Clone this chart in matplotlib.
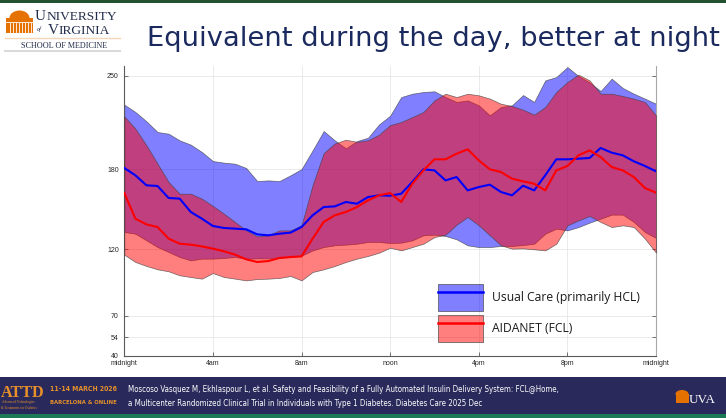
import numpy as np
import matplotlib
matplotlib.use("Agg")
import matplotlib.pyplot as plt
from matplotlib import font_manager as fm
from matplotlib.patches import Patch, Rectangle, Ellipse
from matplotlib.lines import Line2D
from matplotlib.legend_handler import HandlerTuple

# ---------------- data (mg/dL, every 30 minutes from midnight to midnight) -------------
hours = np.arange(0, 24.5, 0.5)

uc_upper = [228.3, 222.8, 215.8, 207.8, 206.5, 201.5, 198.3, 192.8, 186.0, 184.8,
            184.0, 180.8, 171.0, 171.5, 171.0, 175.3, 180.0, 194.0, 208.5, 201.5,
            195.5, 201.0, 203.5, 213.5, 220.0, 234.0, 236.5, 237.8, 238.3, 234.0,
            230.3, 231.5, 227.8, 220.3, 226.5, 227.8, 235.5, 230.3, 246.5, 249.0,
            256.5, 249.8, 245.0, 238.5, 247.8, 240.8, 236.5, 232.8, 229.0]
uc_median = [180.8, 175.3, 167.8, 167.3, 158.3, 157.8, 147.8, 142.8, 137.3, 135.8,
             135.3, 134.8, 131.0, 130.3, 131.5, 132.3, 136.5, 145.3, 151.5, 152.0,
             155.3, 154.0, 159.0, 160.3, 160.0, 161.5, 170.3, 179.8, 179.0, 171.5,
             174.0, 164.0, 166.5, 168.3, 162.8, 160.3, 167.5, 164.0, 175.3, 187.3,
             187.3, 187.8, 188.3, 195.8, 192.3, 190.3, 185.8, 182.3, 178.3]
uc_lower = [132.8, 131.5, 126.5, 121.5, 117.8, 114.0, 111.5, 112.8, 112.8, 113.3,
            114.0, 112.8, 113.0, 113.0, 113.5, 114.0, 115.0, 119.0, 121.5, 122.8,
            123.3, 124.0, 125.3, 125.3, 124.5, 124.8, 126.5, 130.3, 130.8, 129.8,
            127.3, 122.8, 121.5, 121.5, 122.3, 122.3, 123.0, 124.0, 131.5, 135.3,
            134.0, 136.5, 139.8, 142.8, 145.8, 145.8, 140.3, 132.8, 128.3]

fcl_upper = [219.5, 210.3, 197.8, 184.0, 170.3, 161.5, 161.5, 157.8, 152.3, 146.5,
             140.3, 134.0, 129.5, 130.3, 134.0, 134.0, 137.8, 168.0, 192.0, 199.2,
             202.0, 200.4, 201.6, 205.8, 213.0, 215.3, 219.0, 222.8, 231.5, 236.5,
             234.0, 236.5, 235.3, 232.8, 229.0, 227.3, 224.5, 220.8, 226.5, 237.8,
             245.3, 250.8, 246.5, 236.5, 236.5, 234.8, 232.8, 230.3, 220.3]
fcl_median = [162.0, 142.8, 138.5, 136.5, 127.8, 124.0, 123.3, 122.0, 120.3, 118.3,
              115.8, 112.3, 110.3, 111.0, 113.3, 114.0, 114.5, 127.8, 140.3, 145.3,
              147.8, 151.5, 156.5, 160.3, 162.0, 155.3, 169.0, 179.0, 187.3, 187.3,
              191.5, 194.8, 186.5, 179.8, 177.8, 172.8, 170.8, 169.0, 164.0, 179.0,
              182.3, 190.3, 194.0, 189.0, 181.5, 179.0, 174.0, 165.8, 162.3]
fcl_lower = [115.8, 110.3, 107.3, 104.8, 103.3, 100.3, 99.0, 97.8, 102.0, 99.0,
             97.8, 96.5, 97.5, 97.8, 98.3, 99.8, 96.5, 102.8, 104.8, 107.3,
             110.3, 112.8, 114.8, 117.3, 121.0, 119.0, 121.5, 124.0, 129.0, 130.8,
             138.3, 144.0, 137.8, 130.3, 122.8, 120.3, 120.5, 119.8, 119.0, 124.0,
             137.8, 141.5, 144.8, 140.3, 136.5, 137.8, 136.5, 127.8, 117.3]

x_ticks = [0, 4, 8, 12, 16, 20, 24]
x_tick_labels = ["midnight", "4am", "8am", "noon", "4pm", "8pm", "midnight"]
y_ticks = [40, 54, 70, 120, 180, 250]
series_labels = ["Usual Care (primarily HCL)", "AIDANET (FCL)"]

title = "Equivalent during the day, better at night"
citation = ["Moscoso Vasquez M, Ekhlaspour L, et al. Safety and Feasibility of a Fully Automated Insulin Delivery System: FCL@Home,",
            "a Multicenter Randomized Clinical Trial in Individuals with Type 1 Diabetes. Diabetes Care 2025 Dec"]

# ---------------- figure ----------------
W, H = 726, 418
fig = plt.figure(figsize=(W / 100, H / 100), dpi=100)
fig.patch.set_facecolor("white")


def fx(x):
    return x / W


def fy(y):
    return 1 - y / H


renderer = fig.canvas.get_renderer()


def fit_width(t, target):
    w = t.get_window_extent(renderer).width
    t.set_fontsize(t.get_fontsize() * target / w)
    return t


def has_font(name):
    try:
        fm.findfont(fm.FontProperties(family=name), fallback_to_default=False)
        return True
    except Exception:
        return False


if has_font("Liberation Sans Narrow"):
    narrow_kw = {"family": "Liberation Sans Narrow"}
else:
    narrow_kw = {"family": "DejaVu Sans", "stretch": "condensed"}


def add_rect(x0, y0, x1, y1, color, z=0):
    r = Rectangle((fx(x0), fy(y1)), fx(x1) - fx(x0), fy(y0) - fy(y1),
                  transform=fig.transFigure, facecolor=color, edgecolor="none", zorder=z)
    fig.add_artist(r)
    return r


def add_line(x0, y0, x1, y1, color, lw):
    fig.add_artist(Line2D([fx(x0), fx(x1)], [fy(y0), fy(y1)], transform=fig.transFigure,
                          color=color, lw=lw))


def small_caps(x, y_base, first, rest, s1, s2, **kw):
    t1 = fig.text(fx(x), fy(y_base), first, fontsize=s1, ha="left", va="baseline", **kw)
    w1 = t1.get_window_extent(renderer).width
    fig.text(fx(x + w1 + 0.3), fy(y_base), rest, fontsize=s2, ha="left", va="baseline", **kw)


# ---------------- chart ----------------
ax = fig.add_axes([fx(124.3), fy(355.7), (656.0 - 124.3) / W, (355.7 - 66.0) / H])
ax.set_facecolor("white")

blue_fill = (0, 0, 1, 0.5)
red_fill = (1, 0, 0, 0.5)
edge = (0.25, 0.25, 0.25, 0.75)

ax.fill_between(hours, uc_lower, uc_upper, facecolor=blue_fill, edgecolor=edge, linewidth=0.5, zorder=2)
ax.fill_between(hours, fcl_lower, fcl_upper, facecolor=red_fill, edgecolor=edge, linewidth=0.5, zorder=3)
ax.plot(hours, uc_median, color=(0, 0, 1), lw=1.5, zorder=4)
ax.plot(hours, fcl_median, color=(1, 0, 0), lw=1.5, zorder=5)

ax.set_xlim(0, 24)
ax.set_ylim(40, 257.3)
ax.set_xticks(x_ticks)
ax.set_xticklabels(x_tick_labels)
ax.set_yticks(y_ticks)
ax.grid(True, color="#e6e6e6", linewidth=0.6)
ax.set_axisbelow(True)

for side in ["left", "bottom"]:
    ax.spines[side].set_color("#5a5a5a")
    ax.spines[side].set_linewidth(0.8)
ax.spines["right"].set_color("#a8a8a8")
ax.spines["right"].set_linewidth(0.8)
ax.spines["top"].set_visible(False)

ax.tick_params(axis="both", direction="in", length=3, width=0.6, color="#5a5a5a",
               labelsize=5, labelcolor="#262626")
ax.tick_params(axis="y", pad=4, right=True)
ax.tick_params(axis="x", pad=3)
for lab in ax.get_xticklabels() + ax.get_yticklabels():
    lab.set_family("Liberation Sans")

# legend (patch 45x27 px, rows 4 px apart)
fs = 8.5
fpx = fs * 100 / 72
hh = (27 / fpx - 0.245) / 0.65
handles = [
    (Patch(facecolor=blue_fill, edgecolor=edge, linewidth=0.6), Line2D([], [], color=(0, 0, 1), lw=1.8)),
    (Patch(facecolor=red_fill, edgecolor=edge, linewidth=0.6), Line2D([], [], color=(1, 0, 0), lw=1.8)),
]
leg = ax.legend(handles, series_labels, handler_map={tuple: HandlerTuple(ndivide=1, pad=0)},
                loc="upper left", bbox_to_anchor=(fx(438), fy(284)), bbox_transform=fig.transFigure,
                frameon=False, handlelength=45 / fpx, handleheight=hh,
                labelspacing=4 / fpx, handletextpad=9 / fpx, borderpad=0, borderaxespad=0,
                prop={"family": "Open Sans", "size": fs})
for t in leg.get_texts():
    t.set_color("#1a1a1a")
fit_width(leg.get_texts()[0], 147)
leg.get_texts()[1].set_fontsize(leg.get_texts()[0].get_fontsize())

# ---------------- slide decorations ----------------
add_rect(0, 0, W, 2.5, "#24512f", z=5)

# UVA logo (top-left)
orange = "#E57200"
navy_logo = "#232D4B"
dome = Ellipse((fx(19.5), fy(18)), fx(20) - fx(0), fy(0) - fy(15), transform=fig.transFigure,
               facecolor=orange, edgecolor="none")
fig.add_artist(dome)
add_rect(6, 18, 33, 33, orange, z=1)
for xc in [9.5, 12.5, 15.5, 18.5, 21.5, 24.5, 27.5, 30.5]:
    add_line(xc, 23, xc, 31.5, "white", 0.6)
add_line(6, 21.5, 33, 21.5, "white", 0.6)

serif_kw = {"family": "Liberation Serif", "color": navy_logo}
small_caps(35, 20, "U", "NIVERSITY", 11, 9.6, **serif_kw)
fig.text(fx(37), fy(30.5), "of", style="italic", ha="left", va="baseline", fontsize=4.5, **serif_kw)
small_caps(47.5, 34, "V", "IRGINIA", 11, 9.6, **serif_kw)
add_line(5, 38, 120, 38, "#f4d6bb", 1.0)
t = fig.text(fx(21), fy(45.5), "SCHOOL OF MEDICINE", ha="left", va="center", fontsize=5, **serif_kw)
fit_width(t, 86)
add_line(5, 51, 120, 51, "#d9d9d9", 1.5)

# title
t = fig.text(fx(147), fy(46), title, family="DejaVu Sans", color="#1b2a5e",
             ha="left", va="baseline", fontsize=20)
fit_width(t, 571)

# footer
add_rect(0, 377, W, 414, "#29295b", z=0)
add_rect(0, 414, W, H, "#1c7a57", z=0)
footer_orange = "#e8912a"
t = fig.text(fx(0.5), fy(397), "ATTD", family="Liberation Serif", weight="bold", color=footer_orange,
             ha="left", va="baseline", fontsize=14)
fit_width(t, 44)
fig.text(fx(2), fy(402), "Advanced Technologies", family="Liberation Serif", color=footer_orange,
         ha="left", va="center", fontsize=2.4)
fig.text(fx(1), fy(408), "& Treatments for Diabetes", family="Liberation Serif", color=footer_orange,
         ha="left", va="center", fontsize=2.4)
t = fig.text(fx(50), fy(389), "11-14 MARCH 2026", weight="bold",
             color=footer_orange, ha="left", va="center", fontsize=6, **narrow_kw)
fit_width(t, 67)
t = fig.text(fx(50), fy(403), "BARCELONA & ONLINE", weight="bold",
             color=footer_orange, ha="left", va="center", fontsize=6, **narrow_kw)
fit_width(t, 67)

c1 = fig.text(fx(128), fy(389), citation[0], color="white",
              ha="left", va="center", fontsize=7, **narrow_kw)
fit_width(c1, 434)
fig.text(fx(128), fy(403), citation[1], color="white",
         ha="left", va="center", fontsize=c1.get_fontsize(), **narrow_kw)

# UVA footer mark
small_dome = Ellipse((fx(682), fy(394)), fx(13) - fx(0), fy(0) - fy(8), transform=fig.transFigure,
                     facecolor=orange, edgecolor="none")
fig.add_artist(small_dome)
add_rect(675.5, 394, 688.5, 403, orange, z=1)
t = fig.text(fx(689), fy(403), "UVA", family="Liberation Serif", color="white",
             ha="left", va="baseline", fontsize=10)
fit_width(t, 27)

fig.savefig("out.png", dpi=100, facecolor="white")
